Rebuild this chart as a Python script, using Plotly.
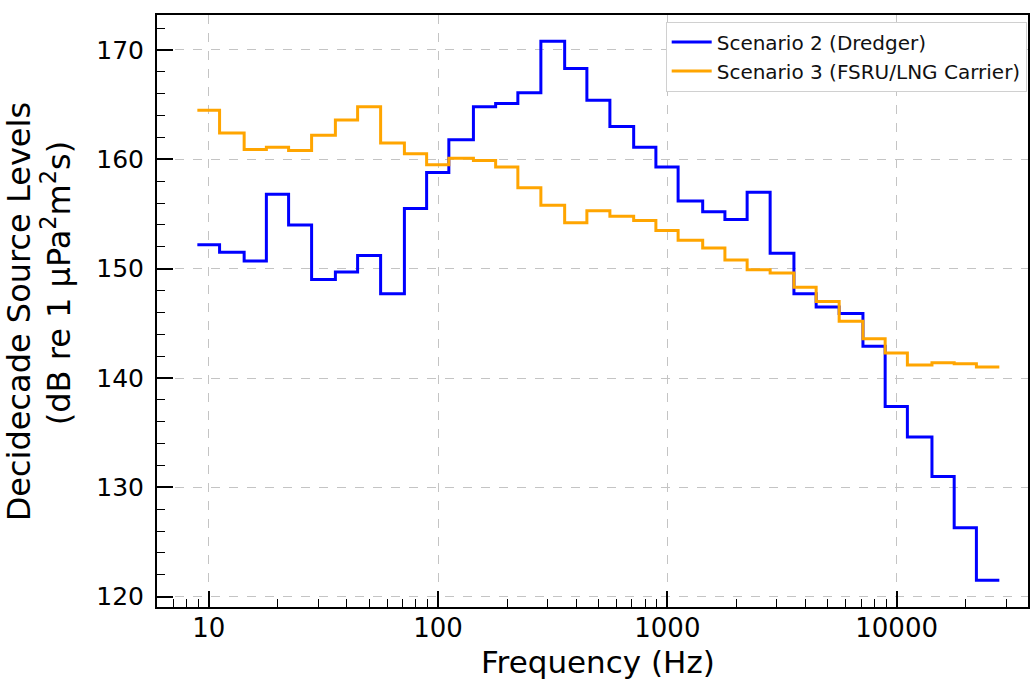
import plotly.graph_objects as go

# Decidecade band nominal centre frequencies (Hz)
freqs = [10, 12.5, 16, 20, 25, 31.5, 40, 50, 63, 80,
         100, 125, 160, 200, 250, 315, 400, 500, 630, 800,
         1000, 1250, 1600, 2000, 2500, 3150, 4000, 5000, 6300, 8000,
         10000, 12500, 16000, 20000, 25000]

# Scenario 2 (Dredger) decidecade source levels
dredger = [152.2, 151.5, 150.7, 156.8, 154.0, 149.0, 149.7, 151.2, 147.7, 155.5,
           158.8, 161.8, 164.8, 165.1, 166.1, 170.8, 168.3, 165.4, 163.0, 161.1,
           159.3, 156.2, 155.2, 154.5, 157.0, 151.4, 147.7, 146.5, 145.9, 142.9,
           137.4, 134.6, 131.0, 126.3, 121.5]

# Scenario 3 (FSRU/LNG Carrier) decidecade source levels
fsru = [164.5, 162.4, 160.9, 161.1, 160.8, 162.2, 163.6, 164.8, 161.5, 160.5,
        159.5, 160.1, 159.9, 159.3, 157.4, 155.8, 154.2, 155.3, 154.8, 154.4,
        153.5, 152.6, 151.9, 150.8, 149.9, 149.6, 148.3, 147.0, 145.2, 143.6,
        142.3, 141.2, 141.4, 141.3, 141.0]

x_tick_vals = [10, 100, 1000, 10000]
x_tick_text = ["10", "100", "1000", "10000"]
y_tick_vals = [120, 130, 140, 150, 160, 170]

series_names = ["Scenario 2 (Dredger)", "Scenario 3 (FSRU/LNG Carrier)"]
series_colors = ["#0000ff", "#ffa500"]

x_title = "Frequency (Hz)"
y_title_lines = ["Decidecade Source Levels", "(dB re 1 μPa<sup>2</sup>m<sup>2</sup>s)"]

# band edges: lower edge of each band, plus the upper edge of the last band
half = 10 ** 0.05
edges = [f / half for f in freqs] + [freqs[-1] * half]


def step_y(vals):
    return list(vals) + [vals[-1]]


fig = go.Figure()
for name, vals, col in zip(series_names, [dredger, fsru], series_colors):
    fig.add_trace(go.Scatter(
        x=edges, y=step_y(vals), mode="lines", name=name,
        line=dict(color=col, width=3, shape="hv"),
    ))

minor_x = []
for d in [1, 10, 100, 1000, 10000]:
    for k in range(2, 10):
        minor_x.append(k * d)

font_family = "DejaVu Sans"
W, H = 1030, 679
ML, MR, MT, MB = 157, 0, 15, 72
PW = W - ML - MR
PH = H - MT - MB


def px_x(px):
    return (px - ML) / PW


def px_y(py):
    return (H - MB - py) / PH


fig.update_layout(
    width=W, height=H,
    margin=dict(l=ML, r=MR, t=MT, b=MB),
    paper_bgcolor="white", plot_bgcolor="white",
    font=dict(family=font_family, color="black"),
    showlegend=True,
    legend=dict(
        x=0.9985, y=0.989, xanchor="right", yanchor="top",
        bgcolor="white", bordercolor="#d0d0d0", borderwidth=1,
        font=dict(size=20, family=font_family, color="#111"),
        tracegroupgap=0, itemwidth=40,
    ),
    xaxis=dict(
        type="log", range=[0.774, 4.573],
        tickmode="array", tickvals=x_tick_vals, ticktext=x_tick_text,
        ticks="inside", ticklen=16, tickwidth=1.5, tickcolor="black",
        tickfont=dict(size=26, family=font_family, color="black"),
        showline=True, linecolor="black", linewidth=2, mirror=True,
        showgrid=True, gridcolor="#c4c4c4", griddash="dash", gridwidth=1,
        zeroline=False,
        minor=dict(tickmode="array", tickvals=minor_x, ticks="inside",
                   ticklen=8, tickwidth=1.2, tickcolor="black", showgrid=False),
        ticklabelstandoff=-3,
    ),
    yaxis=dict(
        range=[119.06, 173.2],
        tickmode="array", tickvals=y_tick_vals,
        ticks="inside", ticklen=16, tickwidth=1.5, tickcolor="black",
        tickfont=dict(size=25, family=font_family, color="black"),
        showline=True, linecolor="black", linewidth=2, mirror=True,
        showgrid=True, gridcolor="#c4c4c4", griddash="dash", gridwidth=1,
        zeroline=False,
        minor=dict(dtick=2, ticks="inside", ticklen=8, tickwidth=1.2,
                   tickcolor="black", showgrid=False),
        ticklabelstandoff=6,
    ),
    annotations=[
        dict(text=x_title, xref="paper", yref="paper", x=px_x(599), y=px_y(662),
             xanchor="center", yanchor="middle", showarrow=False,
             font=dict(size=31, family=font_family, color="black")),
        dict(text=y_title_lines[0], xref="paper", yref="paper", x=px_x(19), y=px_y(312),
             xanchor="center", yanchor="middle", showarrow=False, textangle=-90,
             font=dict(size=32, family=font_family, color="black")),
        dict(text=y_title_lines[1], xref="paper", yref="paper", x=px_x(56), y=px_y(283),
             xanchor="center", yanchor="middle", showarrow=False, textangle=-90,
             font=dict(size=32, family=font_family, color="black")),
    ],
)

fig.write_html("out.html")
